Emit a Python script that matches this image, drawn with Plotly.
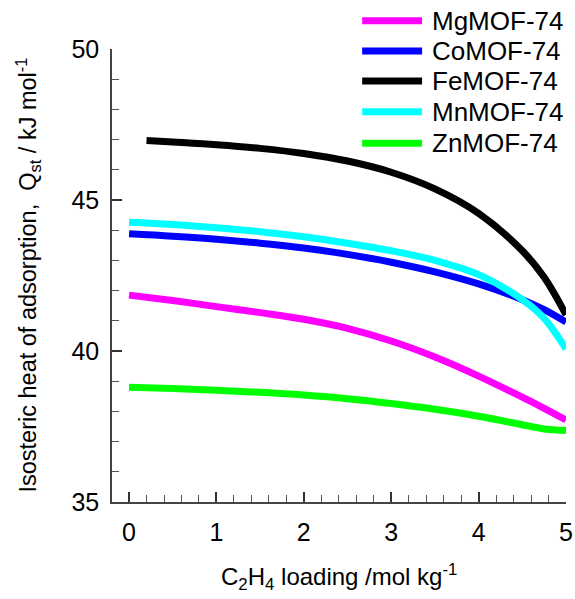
import plotly.graph_objects as go

# C2H4 loading (mol/kg) and isosteric heats (kJ/mol) for each MOF-74 analogue
loading = [0.0, 0.5, 1.0, 1.5, 2.0, 2.5, 3.0, 3.5, 4.0, 4.5, 4.75, 5.0]
loading_fe = [0.2, 0.5, 1.0, 1.5, 2.0, 2.5, 3.0, 3.5, 4.0, 4.5, 4.75, 5.0]

q_mg = [41.85, 41.67, 41.47, 41.27, 41.05, 40.75, 40.33, 39.8, 39.17, 38.47, 38.1, 37.72]
q_co = [43.88, 43.8, 43.7, 43.57, 43.41, 43.2, 42.94, 42.62, 42.22, 41.7, 41.37, 40.96]
q_fe = [46.97, 46.92, 46.83, 46.71, 46.54, 46.29, 45.92, 45.37, 44.56, 43.32, 42.44, 41.2]
q_mn = [44.26, 44.19, 44.08, 43.95, 43.78, 43.57, 43.32, 43.0, 42.53, 41.7, 41.08, 40.07]
q_zn = [38.8, 38.76, 38.7, 38.63, 38.54, 38.42, 38.26, 38.07, 37.84, 37.56, 37.42, 37.37]

names = ["MgMOF-74", "CoMOF-74", "FeMOF-74", "MnMOF-74", "ZnMOF-74"]
colors = ["#FF00FF", "#0000FF", "#000000", "#00FFFF", "#00FF00"]
xs = [loading, loading, loading_fe, loading, loading]
ys = [q_mg, q_co, q_fe, q_mn, q_zn]

FONT = "Liberation Sans, Arial, sans-serif"
LW = 7

fig = go.Figure()
for name, color, x, y in zip(names, colors, xs, ys):
    fig.add_trace(go.Scatter(
        x=x, y=y, name=name, mode="lines",
        line=dict(color=color, width=LW, shape="spline", smoothing=1.0),
        showlegend=False,
    ))

# hand-drawn legend in the upper right
legend_y = [1.0625, 0.9956, 0.9294, 0.8616, 0.7918]
for name, color, ly in zip(names, colors, legend_y):
    fig.add_shape(type="line", xref="paper", yref="paper",
                  x0=0.551, x1=0.683, y0=ly, y1=ly,
                  line=dict(color=color, width=LW))
    fig.add_annotation(xref="paper", yref="paper", x=0.701, y=ly,
                       xanchor="left", yanchor="middle", showarrow=False,
                       text=name, font=dict(family=FONT, size=26, color="black"))

# axis titles
fig.add_annotation(xref="paper", yref="paper", x=0.5, y=-0.165,
                   xanchor="center", yanchor="middle", showarrow=False,
                   text="C<sub>2</sub>H<sub>4</sub> loading /mol kg<sup>-1</sup>",
                   font=dict(family=FONT, size=24, color="black"))
fig.add_annotation(xref="paper", yref="paper", x=-0.185, y=0.5,
                   xanchor="center", yanchor="middle", showarrow=False, textangle=-90,
                   text="Isosteric heat of adsorption,  Q<sub>st</sub> / kJ mol<sup>-1</sup>",
                   font=dict(family=FONT, size=23.5, color="black"))

axis_common = dict(
    showgrid=False, zeroline=False, showline=True, automargin=False,
    linecolor="#444444", linewidth=1.5,
    ticks="inside", ticklen=10, tickwidth=1.5, tickcolor="#333333",
    tickfont=dict(family=FONT, size=25, color="black"),
)

fig.update_xaxes(
    range=[-0.195, 5.0], tickmode="array", tickvals=[0, 1, 2, 3, 4, 5],
    minor=dict(ticks="inside", ticklen=7, tickwidth=1.2, tickcolor="#555555",
               tick0=0, dtick=0.2),
    ticklabelstandoff=7,
    **axis_common,
)
fig.update_yaxes(
    range=[35, 50], tickmode="array", tickvals=[35, 40, 45, 50],
    minor=dict(ticks="inside", ticklen=7, tickwidth=1.2, tickcolor="#555555",
               tick0=35, dtick=1),
    ticklabelstandoff=6,
    **axis_common,
)

fig.update_layout(
    width=575, height=599,
    margin=dict(l=112, r=9.3, t=49, b=97),
    plot_bgcolor="white", paper_bgcolor="white",
    font=dict(family=FONT, color="black"),
)

fig.write_html("out.html")
